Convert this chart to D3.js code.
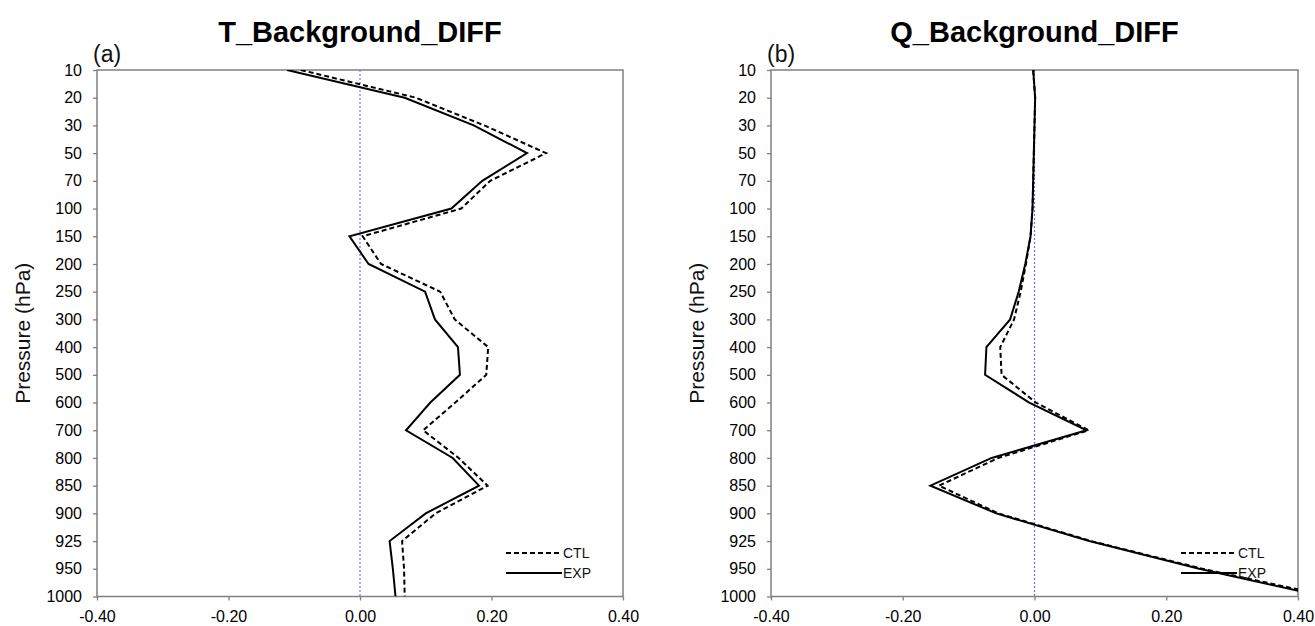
<!DOCTYPE html>
<html>
<head>
<meta charset="utf-8">
<script src="https://cdn.jsdelivr.net/npm/d3@7"></script>
<style>
  html, body { margin: 0; padding: 0; background: #fff; }
  svg { display: block; font-family: "Liberation Sans", Arial, sans-serif; }
</style>
</head>
<body>
<svg id="chart" width="1315" height="626"></svg>
<script>
// ---- data ----
const levels = [10, 20, 30, 50, 70, 100, 150, 200, 250, 300, 400, 500, 600, 700, 800, 850, 900, 925, 950, 1000];
const xTicks = [-0.4, -0.2, 0, 0.2, 0.4];

const tCTL = [-0.090, 0.085, 0.189, 0.283, 0.198, 0.154, 0.004, 0.032, 0.122, 0.144, 0.195, 0.192, 0.145, 0.096, 0.150, 0.194, 0.115, 0.064, 0.067, 0.068];
const tEXP = [-0.111, 0.068, 0.173, 0.254, 0.186, 0.139, -0.016, 0.013, 0.099, 0.114, 0.149, 0.152, 0.107, 0.070, 0.141, 0.181, 0.100, 0.045, 0.050, 0.054];

const qCTL = [-0.002, 0.001, 0.000, -0.001, -0.002, -0.003, -0.006, -0.013, -0.021, -0.031, -0.052, -0.050, 0.002, 0.082, -0.055, -0.145, -0.055, 0.086, 0.255, 0.450];
const qEXP = [-0.002, 0.001, 0.000, -0.001, -0.002, -0.003, -0.006, -0.014, -0.024, -0.037, -0.073, -0.075, -0.008, 0.079, -0.065, -0.158, -0.058, 0.083, 0.250, 0.440];

const panels = [
  { id: "a", label: "(a)", title: "T_Background_DIFF", ctl: tCTL, exp: tEXP, x0: 97, x1: 623 },
  { id: "b", label: "(b)", title: "Q_Background_DIFF", ctl: qCTL, exp: qEXP, x0: 771, x1: 1298 }
];
const seriesNames = ["CTL", "EXP"];

// ---- drawing ----
const svg = d3.select("#chart");
const yTop = 70, yBot = 596.5;
const axisColor = "#808080";

const y = d3.scalePoint().domain(levels).range([yTop, yBot]).padding(0);

panels.forEach(p => {
  const x = d3.scaleLinear().domain([-0.4, 0.4]).range([p.x0, p.x1]);
  const g = svg.append("g");

  // clip
  const clipId = "clip-" + p.id;
  svg.append("defs").append("clipPath").attr("id", clipId)
    .append("rect").attr("x", p.x0).attr("y", yTop).attr("width", p.x1 - p.x0).attr("height", yBot - yTop);

  // zero reference line
  g.append("line")
    .attr("x1", x(0)).attr("x2", x(0)).attr("y1", yTop).attr("y2", yBot)
    .attr("stroke", "#6f6fff").attr("stroke-width", 1.2).attr("stroke-dasharray", "2,2");

  // Y axis
  const yAxis = g.append("g").attr("transform", `translate(${p.x0},0)`)
    .call(d3.axisLeft(y).tickSize(4).tickSizeOuter(0).tickPadding(11));
  yAxis.select(".domain").remove();
  yAxis.selectAll(".tick line").attr("stroke", axisColor).attr("stroke-width", 1.3);
  yAxis.selectAll(".tick text").attr("font-size", 16).attr("fill", "#000")
    .attr("font-family", "Liberation Sans, Arial, sans-serif");

  // X axis
  const xAxis = g.append("g").attr("transform", `translate(0,${yBot})`)
    .call(d3.axisBottom(x).tickValues(xTicks).tickFormat(d3.format(".2f")).tickSize(4).tickSizeOuter(0).tickPadding(10));
  xAxis.select(".domain").remove();
  xAxis.selectAll(".tick line").attr("stroke", axisColor).attr("stroke-width", 1.3);
  xAxis.selectAll(".tick text").attr("font-size", 16).attr("fill", "#000")
    .attr("font-family", "Liberation Sans, Arial, sans-serif")
    .text(d => d3.format(".2f")(d).replace("−", "-"));

  // box
  g.append("rect")
    .attr("x", p.x0).attr("y", yTop).attr("width", p.x1 - p.x0).attr("height", yBot - yTop)
    .attr("fill", "none").attr("stroke", axisColor).attr("stroke-width", 1.5);

  // lines
  const line = d3.line().x(d => x(d.v)).y(d => y(d.l));
  const ctlData = levels.map((l, i) => ({ l, v: p.ctl[i] }));
  const expData = levels.map((l, i) => ({ l, v: p.exp[i] }));
  const lines = g.append("g").attr("clip-path", `url(#${clipId})`);
  lines.append("path").datum(ctlData).attr("d", line)
    .attr("fill", "none").attr("stroke", "#000").attr("stroke-width", 2).attr("stroke-dasharray", "5,3");
  lines.append("path").datum(expData).attr("d", line)
    .attr("fill", "none").attr("stroke", "#000").attr("stroke-width", 2);

  // legend
  const lg = g.append("g");
  seriesNames.forEach((name, i) => {
    const ly = 553 + i * 20;
    lg.append("line")
      .attr("x1", p.x1 - 117).attr("x2", p.x1 - 61).attr("y1", ly).attr("y2", ly)
      .attr("stroke", "#000").attr("stroke-width", 2)
      .attr("stroke-dasharray", name === "CTL" ? "5,3" : null);
    lg.append("text")
      .attr("x", p.x1 - 60).attr("y", ly + 5)
      .attr("font-size", 14).attr("fill", "#111")
      .text(name);
  });

  // title
  svg.append("text")
    .attr("x", (p.x0 + p.x1) / 2).attr("y", 42)
    .attr("text-anchor", "middle").attr("font-size", 29).attr("font-weight", "bold")
    .attr("fill", "#000")
    .text(p.title);

  // panel label
  svg.append("text")
    .attr("x", p.x0 - 4).attr("y", 62)
    .attr("font-size", 23).attr("fill", "#111")
    .text(p.label);

  // y label
  svg.append("text")
    .attr("transform", `translate(${p.x0 - 67},${(yTop + yBot) / 2}) rotate(-90)`)
    .attr("text-anchor", "middle").attr("font-size", 21).attr("fill", "#111")
    .text("Pressure (hPa)");
});
</script>
</body>
</html>
